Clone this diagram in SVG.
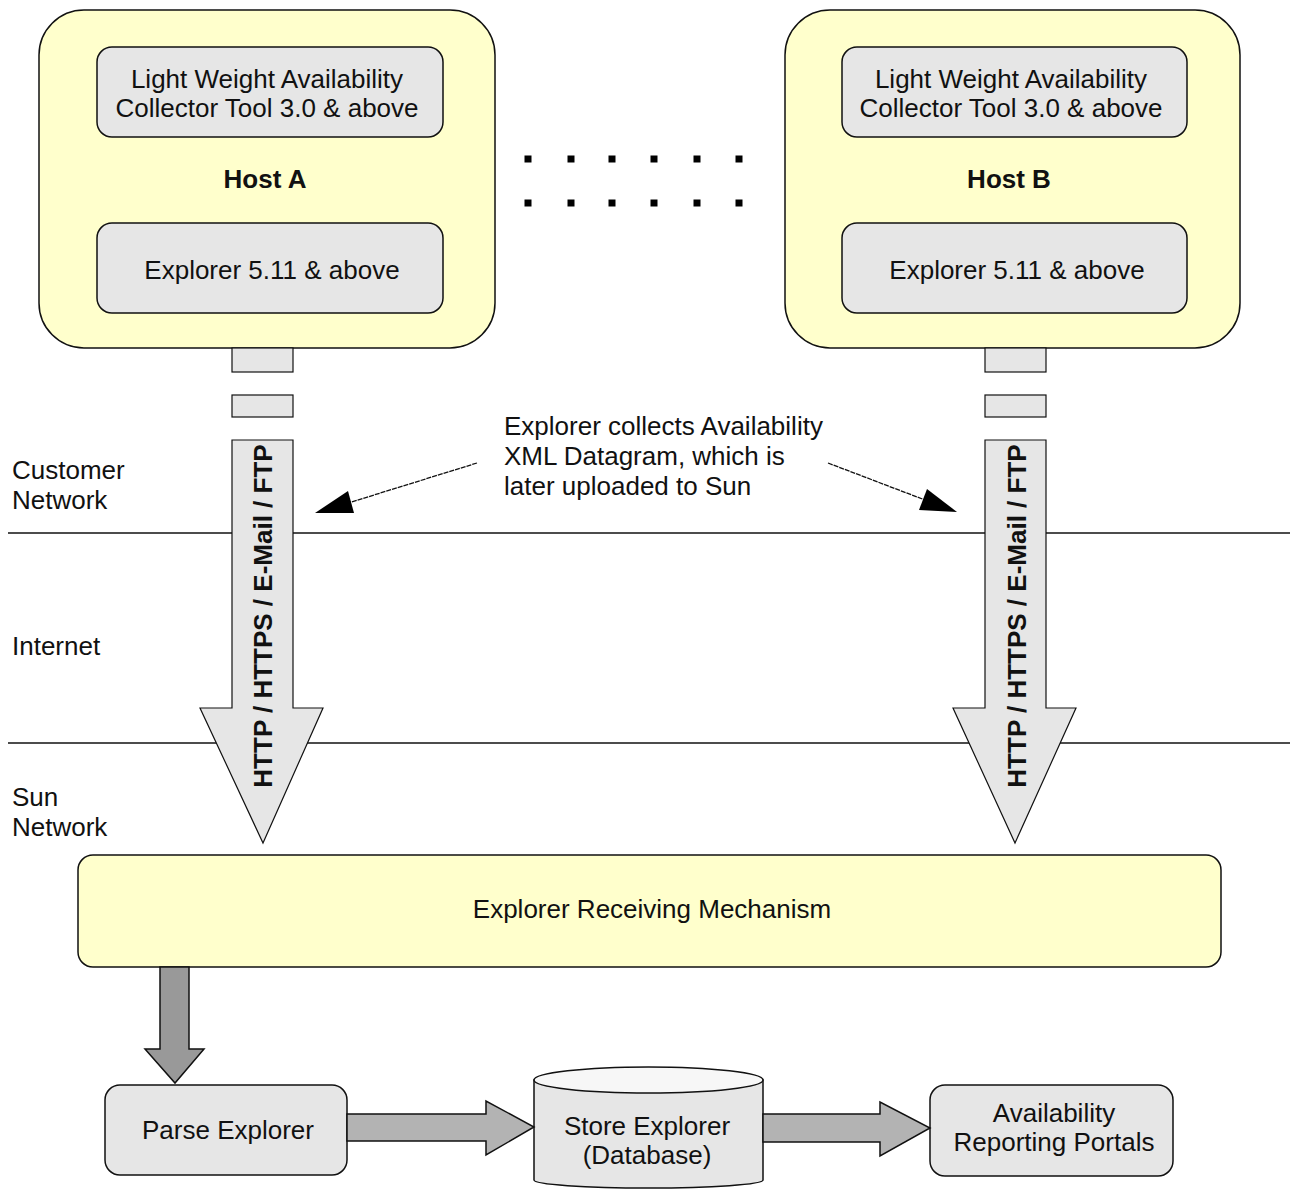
<svg xmlns="http://www.w3.org/2000/svg" width="1292" height="1191" viewBox="0 0 1292 1191">
<style>
  text { font-family: "Liberation Sans", Arial, Helvetica, sans-serif; font-size: 26px; fill: #111; }
  .b { font-weight: bold; }
  .m { text-anchor: middle; }
  .host { fill: #ffffcc; stroke: #111; stroke-width: 1.5; }
  .inner { fill: #e6e6e6; stroke: #111; stroke-width: 1.5; }
  .big { fill: #e6e6e6; stroke: #111; stroke-width: 1.2; }
  .flow { fill: #b3b3b3; stroke: #111; stroke-width: 1.5; }
  .down { fill: #999999; stroke: #111; stroke-width: 1.5; }
  .sep { stroke: #111; stroke-width: 1.5; fill: none; }
  .ann { stroke: #111; stroke-width: 1.3; fill: none; stroke-dasharray: 5 1; }
  .dot { fill: #000; }
</style>
<rect width="1292" height="1191" fill="#ffffff"/>

<g id="separators">
  <line class="sep" x1="8" y1="533" x2="1290" y2="533"/>
  <line class="sep" x1="8" y1="743" x2="1290" y2="743"/>
</g>

<g id="zone-labels">
  <text x="12" y="479">Customer</text>
  <text x="12" y="509">Network</text>
  <text x="12" y="655">Internet</text>
  <text x="12" y="806">Sun</text>
  <text x="12" y="836">Network</text>
</g>

<g id="hostA">
  <rect class="host" x="39" y="10" width="456" height="338" rx="45" ry="45"/>
  <rect class="inner" x="97" y="47" width="346" height="90" rx="15" ry="15"/>
  <text class="m" x="267" y="88">Light Weight Availability</text>
  <text class="m" x="267" y="117">Collector Tool 3.0 &amp; above</text>
  <text class="m b" x="265" y="188">Host A</text>
  <rect class="inner" x="97" y="223" width="346" height="90" rx="15" ry="15"/>
  <text class="m" x="272" y="279">Explorer 5.11 &amp; above</text>
</g>

<g id="hostB">
  <rect class="host" x="785" y="10" width="455" height="338" rx="45" ry="45"/>
  <rect class="inner" x="842" y="47" width="345" height="90" rx="15" ry="15"/>
  <text class="m" x="1011" y="88">Light Weight Availability</text>
  <text class="m" x="1011" y="117">Collector Tool 3.0 &amp; above</text>
  <text class="m b" x="1009" y="188">Host B</text>
  <rect class="inner" x="842" y="223" width="345" height="90" rx="15" ry="15"/>
  <text class="m" x="1017" y="279">Explorer 5.11 &amp; above</text>
</g>

<g id="ellipsis-dots">
  <rect class="dot" x="524.5" y="155.5" width="7" height="7"/>
  <rect class="dot" x="567.5" y="155.5" width="7" height="7"/>
  <rect class="dot" x="608.5" y="155.5" width="7" height="7"/>
  <rect class="dot" x="650.5" y="155.5" width="7" height="7"/>
  <rect class="dot" x="693.5" y="155.5" width="7" height="7"/>
  <rect class="dot" x="735.5" y="155.5" width="7" height="7"/>
  <rect class="dot" x="524.5" y="199.5" width="7" height="7"/>
  <rect class="dot" x="567.5" y="199.5" width="7" height="7"/>
  <rect class="dot" x="608.5" y="199.5" width="7" height="7"/>
  <rect class="dot" x="650.5" y="199.5" width="7" height="7"/>
  <rect class="dot" x="693.5" y="199.5" width="7" height="7"/>
  <rect class="dot" x="735.5" y="199.5" width="7" height="7"/>
</g>

<g id="annotation">
  <text x="504" y="435">Explorer collects Availability</text>
  <text x="504" y="465">XML Datagram, which is</text>
  <text x="504" y="495">later uploaded to Sun</text>
</g>

<g id="receiver">
  <rect class="host" x="78" y="855" width="1143" height="112" rx="15" ry="15"/>
  <text class="m" x="652" y="918">Explorer Receiving Mechanism</text>
</g>

<g id="parse">
  <rect class="inner" x="105" y="1085" width="242" height="90" rx="15" ry="15"/>
  <text class="m" x="228" y="1139">Parse Explorer</text>
</g>

<g id="store">
  <path class="inner" d="M534,1080 L534,1180 A114.5,8 0 0 0 763,1180 L763,1080 Z"/>
  <ellipse cx="648.5" cy="1080" rx="114.5" ry="13" fill="#f7f7f7" stroke="#111" stroke-width="1.5"/>
  <text class="m" x="647" y="1135">Store Explorer</text>
  <text class="m" x="647" y="1164">(Database)</text>
</g>

<g id="portals">
  <rect class="inner" x="930" y="1085" width="243" height="91" rx="15" ry="15"/>
  <text class="m" x="1054" y="1122">Availability</text>
  <text class="m" x="1054" y="1151">Reporting Portals</text>
</g>

<g id="connectors">
  <!-- Host A transfer -->
  <rect class="big" x="232" y="348" width="61" height="24"/>
  <rect class="big" x="232" y="395" width="61" height="22"/>
  <polygon class="big" points="232,440 293,440 293,708 323,708 263,843 200,708 232,708"/>
  <text class="m b" transform="translate(272,616) rotate(-90)">HTTP / HTTPS / E-Mail / FTP</text>
  <!-- Host B transfer -->
  <rect class="big" x="985" y="348" width="61" height="24"/>
  <rect class="big" x="985" y="395" width="61" height="22"/>
  <polygon class="big" points="985,440 1046,440 1046,708 1076,708 1015,843 953,708 985,708"/>
  <text class="m b" transform="translate(1026,616) rotate(-90)">HTTP / HTTPS / E-Mail / FTP</text>
  <!-- annotation pointers -->
  <line class="ann" x1="477" y1="463" x2="345" y2="504"/>
  <polygon fill="#000" points="315,513 348,491 354,513"/>
  <line class="ann" x1="828" y1="463" x2="925" y2="500"/>
  <polygon fill="#000" points="957,512 927,489 919,510"/>
  <!-- receiver to parse -->
  <polygon class="down" points="160,967 189,967 189,1049 204,1049 175,1083 145,1049 160,1049"/>
  <!-- parse to store -->
  <polygon class="flow" points="347,1114 486,1114 486,1101 534,1127 486,1155 486,1141 347,1141"/>
  <!-- store to portals -->
  <polygon class="flow" points="763,1114 880,1114 880,1102 930,1128 880,1156 880,1142 763,1142"/>
</g>
</svg>
